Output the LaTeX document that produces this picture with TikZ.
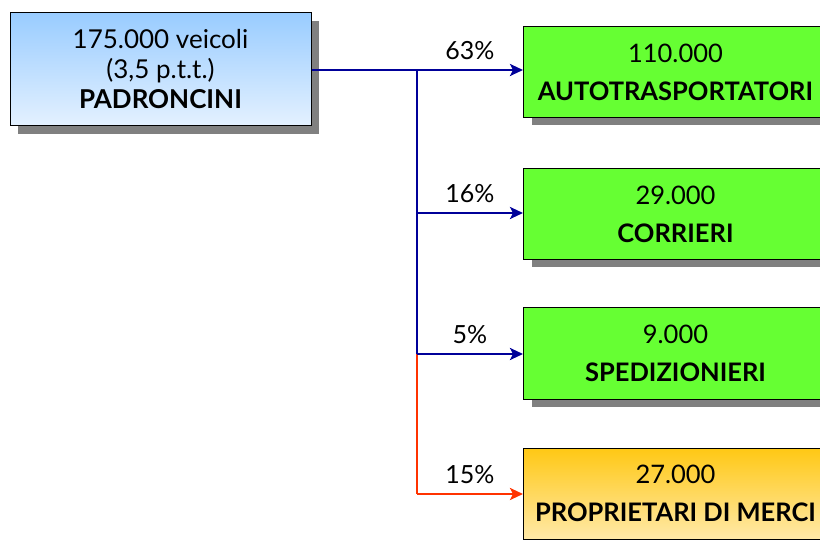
\documentclass[tikz,border=0pt]{standalone}
\usepackage{fontspec}
\setmainfont{Lato}
\usepackage{tikz}
\usetikzlibrary{positioning,arrows.meta,shadows,calc}
\definecolor{cline}{HTML}{000099}
\definecolor{cred}{HTML}{FF3300}
\definecolor{cgreen}{HTML}{66FF33}
\definecolor{ctopb}{HTML}{99CCFF}
\definecolor{cbotb}{HTML}{E4F1FF}
\definecolor{ctopo}{HTML}{FFC814}
\definecolor{cboto}{HTML}{FFE9A8}
\definecolor{cshad}{HTML}{808080}
\tikzset{
  shad/.style={drop shadow={shadow xshift=8pt, shadow yshift=-8pt, fill=cshad, opacity=1}},
  srcbox/.style={rectangle, draw=black, line width=1pt, shad, top color=ctopb, bottom color=cbotb,
                 minimum width=301pt, minimum height=113pt, align=center, inner sep=0pt,
                 font=\fontsize{26}{30}\selectfont},
  dest/.style={rectangle, draw=black, line width=1pt, shad, fill=cgreen,
               minimum width=304pt, minimum height=91pt, align=center, inner sep=0pt,
               font=\fontsize{25.5}{38}\selectfont},
  destorange/.style={dest, top color=ctopo, bottom color=cboto},
  flow/.style={-{Stealth[length=13pt, width=12pt, inset=3pt]}, line width=2.8pt, draw=cline},
  trunk/.style={line width=2.8pt, draw=cline},
  pct/.style={above, yshift=5pt, font=\fontsize{25}{26}\selectfont, inner sep=4pt}
}
\begin{document}
\begin{tikzpicture}[x=1pt, y=-1pt]
\useasboundingbox (0,0) rectangle (820,540);
\begin{scope}
\clip (0,0) rectangle (820,540);
\node[srcbox] (pad) at (160.5,69.5) {175.000 veicoli\\(3,5 p.t.t.)\\\textbf{PADRONCINI}};
\node[dest, anchor=west] (auto) at (523,72) {110.000\\\textbf{AUTOTRASPORTATORI}};
\node[dest, anchor=west] (corr) at (523,214) {29.000\\\textbf{CORRIERI}};
\node[dest, anchor=west] (sped) at (523,353.5) {9.000\\\textbf{SPEDIZIONIERI}};
\node[destorange, anchor=west] (prop) at (523,493.5) {27.000\\\textbf{PROPRIETARI DI MERCI}};
\end{scope}

\coordinate (j1) at (417,70);
\coordinate (j2) at (417,213);
\coordinate (j3) at (417,354);
\coordinate (j4) at (417,494);

\draw[trunk] (pad.east |- j1) -- (j1);
\draw[trunk] (j1) -- (j3);
\draw[trunk, draw=cred] (j3) -- (j4);
\draw[flow] (j1) -- (j1 -| auto.west) node[pct, midway] {63\%};
\draw[flow] (j2) -- (j2 -| corr.west) node[pct, midway] {16\%};
\draw[flow] (j3) -- (j3 -| sped.west) node[pct, midway] {5\%};
\draw[flow, draw=cred, fill=cred] (j4) -- (j4 -| prop.west) node[pct, midway] {15\%};
\end{tikzpicture}
\end{document}
